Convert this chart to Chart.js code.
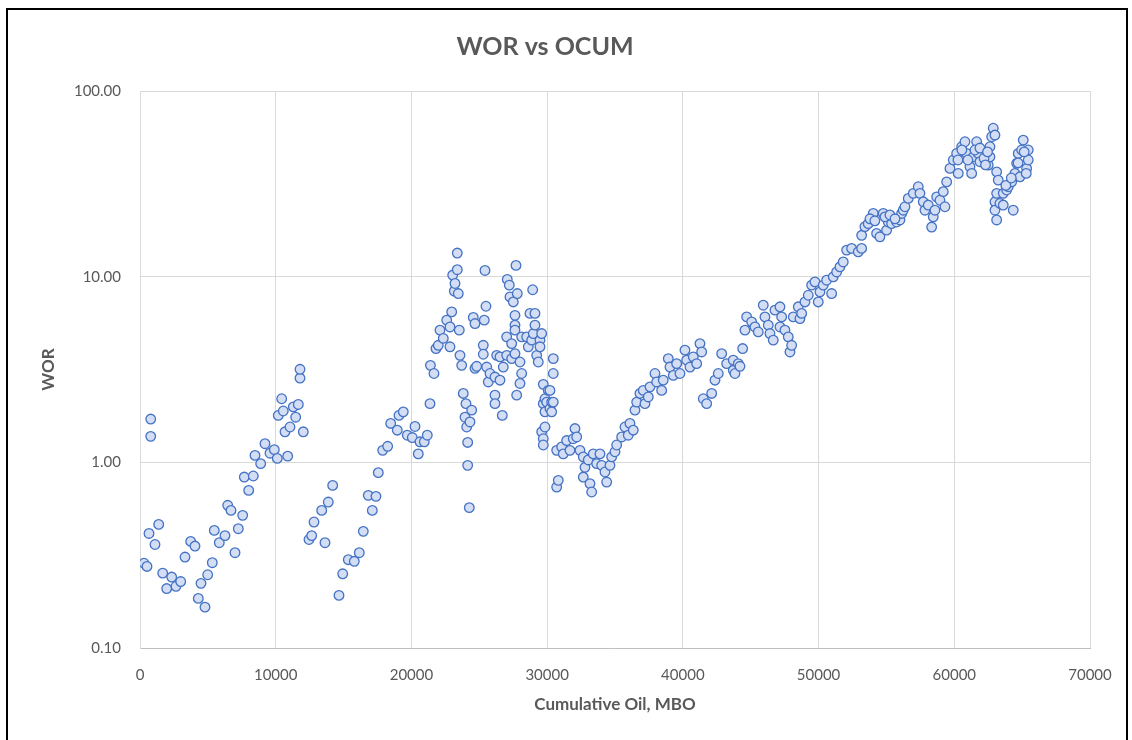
<!DOCTYPE html>
<html>
<head>
<meta charset="utf-8">
<script src="https://cdn.jsdelivr.net/npm/chart.js@4.4.1/dist/chart.umd.min.js"></script>
<style>
  html, body { margin: 0; padding: 0; background: #fff; }
  #wrap { position: relative; width: 1132px; height: 740px; overflow: hidden; }
  #frame { position: absolute; left: 6px; top: 8px; width: 1122px; height: 760px;
           border: 2px solid #000; box-sizing: border-box; pointer-events: none; }
  canvas { position: absolute; left: 0; top: 0; }
</style>
</head>
<body>
<div id="wrap">
  <canvas id="worChart" width="1132" height="740"></canvas>
  <div id="frame"></div>
</div>
<script>
// cumulative oil (MBO) and WOR
var cumOilEarly = [295,515,663,790,790,1105,1378,1673,1967,2336,2652,2999,3316,3736,4052,4296,4494,4789,4988,5327,
  5474,5843,6263,6462,6705,7000,7243,7567,7685,8009,8348,8473,8893,9210,9578,9895,10116,10190,10440,10558,
  10684,10883,11052,11295,11472,11664,11789,11789,12032,12452,12651,12820,13388,13631,13874,14198,14662,14935,15348,15790,
  16158,16453,16821,17116,17388,17558,17882,18250,18472,18958,19083,19400,19695,20063,20262,20505,20630,20947,21168];
var worEarly = [0.286,0.275,0.414,1.71,1.38,0.361,0.463,0.253,0.209,0.241,0.215,0.228,0.309,0.375,0.354,0.185,0.223,0.166,0.248,0.288,
  0.430,0.369,0.403,0.587,0.551,0.326,0.439,0.518,0.833,0.706,0.844,1.09,0.984,1.26,1.12,1.17,1.05,1.79,2.20,1.89,
  1.46,1.08,1.55,1.99,1.75,2.05,2.84,3.17,1.46,0.384,0.403,0.477,0.551,0.369,0.611,0.751,0.192,0.251,0.299,0.293,
  0.326,0.425,0.664,0.551,0.656,0.880,1.16,1.22,1.62,1.49,1.79,1.87,1.40,1.36,1.56,1.11,1.29,1.29,1.40];

var cumOilPeak = [21368,21400,21662,21809,21979,22104,22347,22598,22841,22841,22966,23040,23158,23209,23379,23379,23452,23526,23578,23703,
  23821,23946,24019,24071,24145,24145,24263,24314,24440,24558,24683,24683,24808,25295,25295,25368,25420,25493,25545,25663,
  25788,26156,26156,26156,26282,26525,26525,26694,26768,27019,27019,27062,27210,27262,27387,27387,27505,27630,27630,27630,
  27630,27704,27755,27800,27998,27998,28124,28124,28492,28610,28735,28861,28934,28979,29104,29104,29229,29347,29472,29472,
  29597,29597,29716,29716,29716,29716,29840,29840,29840,29966,30084,30209,30209,30334,30334,30452,30452,30452,30702,30702,30820];
var worPeak = [2.07,3.33,3.01,4.10,4.27,5.15,4.65,5.83,5.36,4.19,6.46,10.2,8.36,9.19,13.4,10.9,8.11,5.15,3.77,3.33,
  2.35,1.75,2.07,1.55,1.28,0.963,0.570,1.65,1.91,6.03,5.59,3.21,3.29,4.27,3.82,5.83,10.8,6.93,3.26,2.71,
  3.01,2.88,2.30,2.07,3.77,3.70,2.77,1.79,3.26,4.74,3.77,9.66,9.00,7.78,4.36,3.62,7.31,6.19,5.48,5.15,
  3.85,11.5,2.30,8.11,3.47,2.66,4.74,3.01,4.74,4.19,6.34,4.55,8.5,4.94,6.34,5.48,3.77,3.47,4.55,4.19,
  1.46,4.94,2.63,2.07,1.34,1.24,2.20,1.87,1.55,2.11,2.44,2.44,1.95,2.11,1.87,3.62,3.01,2.11,1.16,0.736,0.80];

var cumOilMid = [31071,31189,31439,31682,31926,32051,32176,32419,32663,32663,32788,33031,33156,33281,33399,33649,33893,34018,34261,34386,
  34630,34755,34998,35123,35491,35735,35978,36103,36346,36472,36597,36840,37083,37208,37452,37577,37945,38070,38438,38556,
  38925,39050,39294,39544,39787,40155,40280,40524,40767,41017,41260,41386,41505,41754,42123,42367,42610,42860,43228,43714,
  43714,43840,44083,44208,44407];
var worMid = [1.21,1.11,1.31,1.16,1.34,1.52,1.37,1.16,1.07,0.833,0.94,1.03,0.768,0.692,1.11,0.984,1.11,0.963,0.887,0.783,
  0.963,1.07,1.14,1.24,1.37,1.55,1.40,1.62,1.49,1.91,2.11,2.35,2.44,2.07,2.25,2.55,3.01,2.71,2.44,2.77,
  3.62,3.26,2.94,3.40,3.01,4.02,3.55,3.26,3.70,3.40,4.36,3.93,2.20,2.07,2.35,2.77,3.01,3.85,3.40,3.13,
  3.55,3.01,3.40,3.29,4.10];

var cumOilLate = [44576,44701,45070,45313,45556,45925,46050,46293,46418,46661,46786,47155,47155,47280,47524,47767,47892,48017,48136,48504,
  48629,48754,48997,49240,49490,49733,49976,50102,50345,50595,50963,51082,51332,51576,51819,52069,52437,52923,53173,53173,
  53416,53659,54028,54277,54521,54764,55014,55133,55382,55751,55997,56120,56240,56365,56608,56977,57345,57470,57713,57838,
  58082,58332,58450,58576,58701,58944,59188,59313,59438,59681,59925,60175,60293,60543,60786,60911,61154,61280,61398,61648,
  61766,61891,62503,62628,62628,62753,62871,62997,62997,62997,63122,63122,63122,63240,63365,63608,63608,63858,63976,64226,
  64344,64470,64595,64713,64838,64963,65081,65331,65449,65449,
  53790,54150,54890,55260,55630,60270,60560,61000,61520,61890,62190,62300,62450,63800,64200,64700,65150,65300];
var worLate = [5.15,6.07,5.71,5.36,5.04,7.02,6.07,5.48,4.94,4.55,6.60,6.88,5.36,6.07,5.15,4.74,3.93,4.27,6.07,6.88,
  5.95,6.34,7.31,7.94,9.00,9.37,7.31,8.28,9.00,9.57,8.11,9.98,10.6,11.3,12.0,13.9,14.2,13.6,14.2,16.7,
  18.6,19.3,21.9,17.1,16.4,21.9,17.8,19.7,19.3,19.7,20.2,21.9,22.8,23.8,26.4,28.1,30.5,28.1,25.3,22.8,
  24.3,18.5,21.0,22.8,26.9,25.8,28.7,23.8,32.4,38.3,42.5,46.1,36.0,50.1,53.3,46.1,39.1,36.0,44.2,53.3,
  46.1,41.6,39.9,44.2,50.1,56.7,63.0,57.9,25.3,22.8,36.7,28.1,20.2,33.1,24.8,24.3,28.1,29.3,30.5,32.4,
  22.8,36.0,40.8,46.1,34.5,48.1,54.4,38.3,48.1,42.5,
  20.5,20.0,21.0,21.5,20.5,42.5,48.1,42.5,48.1,49.3,43.4,40.0,47.0,31.0,34.0,41.0,47.0,36.0];

var yTickValues = [0.1, 1, 10, 100];

var cumOil = cumOilEarly.concat(cumOilPeak, cumOilMid, cumOilLate);
var wor = worEarly.concat(worPeak, worMid, worLate);
var points = cumOil.map(function (x, i) { return { x: x, y: wor[i] }; });

var fontFam = "Lato, 'Open Sans', sans-serif";
var grey = '#595959';

var ctx = document.getElementById('worChart');
var worChart = new Chart(ctx, {
  type: 'scatter',
  data: {
    datasets: [{
      label: 'WOR',
      data: points,
      pointRadius: 4.8,
      pointBorderWidth: 1.3,
      pointBorderColor: '#4472c4',
      pointBackgroundColor: '#d3ddf3'
    }]
  },
  options: {
    responsive: false,
    animation: false,
    layout: { padding: { left: 0, right: 42, top: 0, bottom: 0 } },
    plugins: {
      legend: { display: false },
      tooltip: { enabled: false },
      title: {
        display: true,
        text: 'WOR vs OCUM',
        color: grey,
        font: { family: fontFam, size: 25, weight: 'bold' },
        padding: { top: 32, bottom: 29 }
      }
    },
    scales: {
      x: {
        type: 'linear',
        min: 0,
        max: 70000,
        afterFit: function (scale) { scale.height = 92; },
        ticks: {
          stepSize: 10000, color: grey, padding: 18, font: { family: fontFam, size: 15 },
          callback: function (v) { return String(v); }
        },
        grid: { color: '#d9d9d9', drawTicks: false },
        border: { color: '#bfbfbf' },
        title: {
          display: true,
          text: 'Cumulative Oil, MBO',
          color: grey,
          font: { family: fontFam, size: 17, weight: 'bold' },
          padding: { top: 0, bottom: 25 }
        }
      },
      y: {
        type: 'logarithmic',
        min: 0.1,
        max: 100,
        afterFit: function (scale) { scale.width = 140; },
        afterBuildTicks: function (scale) {
          scale.ticks = yTickValues.map(function (v) { return { value: v }; });
        },
        ticks: {
          color: grey,
          padding: 19,
          font: { family: fontFam, size: 15 },
          callback: function (v) { return Number(v).toFixed(2); }
        },
        grid: { color: '#d9d9d9', drawTicks: false },
        border: { color: '#d9d9d9' },
        title: {
          display: true,
          text: 'WOR',
          color: grey,
          font: { family: fontFam, size: 17, weight: 'bold' },
          padding: { top: 38, bottom: 0 }
        }
      }
    }
  }
});
</script>
</body>
</html>
